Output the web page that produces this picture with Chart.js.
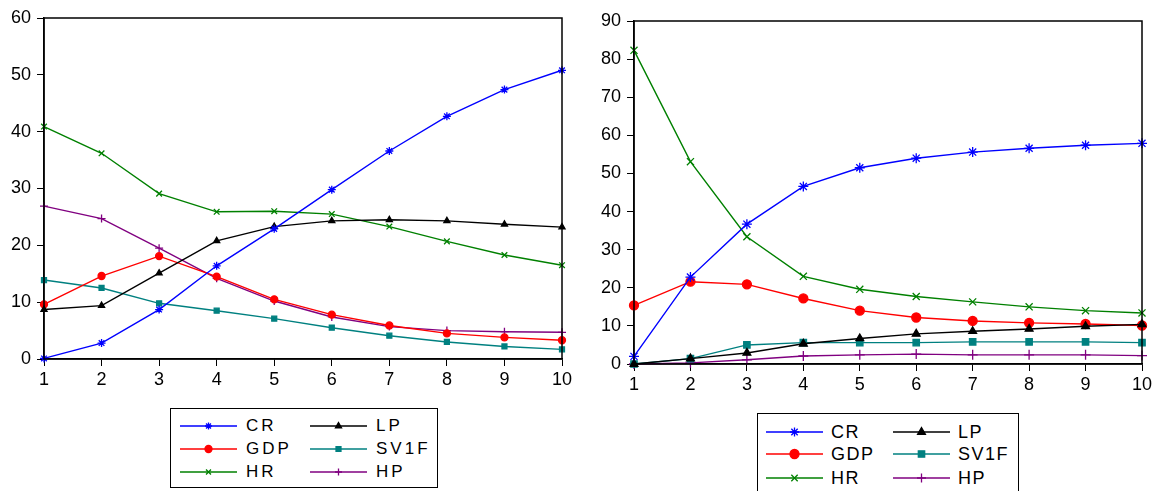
<!DOCTYPE html>
<html>
<head>
<meta charset="utf-8">
<script src="https://cdn.jsdelivr.net/npm/chart.js@4/dist/chart.umd.min.js"></script>
<style>
  html, body { margin: 0; padding: 0; background: #fff; }
  body { width: 1163px; height: 491px; position: relative; overflow: hidden; font-family: "Liberation Sans", Arial, sans-serif; }
  .wrap { position: absolute; }
  .legend { position: absolute; border: 1px solid #000; background: #fff; box-sizing: border-box; }
  .legend .item { position: absolute; height: 22px; }
  .legend canvas { position: absolute; left: 0; top: 0; }
  .legend span { position: absolute; top: 0; line-height: 22px; color: #000; white-space: nowrap; }
</style>
</head>
<body>
<div class="wrap" id="w1" style="left:0;top:0;width:576px;height:397px"><canvas id="c1"></canvas></div>
<div class="wrap" id="w2" style="left:590px;top:0;width:566px;height:402px"><canvas id="c2"></canvas></div>
<div class="legend" id="l1" style="left:170px;top:408px;width:268px;height:80px"></div>
<div class="legend" id="l2" style="left:757px;top:413px;width:262px;height:90px"></div>
<script>
// x categories
const periods = ['1', '2', '3', '4', '5', '6', '7', '8', '9', '10'];

// left panel
const crA   = [0.1, 2.8, 8.7, 16.4, 22.9, 29.8, 36.6, 42.7, 47.4, 50.8];
const lpA   = [8.7, 9.4, 15.1, 20.8, 23.3, 24.3, 24.5, 24.3, 23.7, 23.2];
const gdpA  = [9.6, 14.6, 18.1, 14.5, 10.5, 7.8, 5.9, 4.5, 3.8, 3.3];
const sv1fA = [13.9, 12.5, 9.8, 8.5, 7.1, 5.5, 4.1, 3.0, 2.2, 1.7];
const hrA   = [40.9, 36.2, 29.1, 25.9, 26.0, 25.5, 23.3, 20.7, 18.3, 16.5];
const hpA   = [26.9, 24.7, 19.5, 14.2, 10.2, 7.4, 5.7, 5.0, 4.8, 4.7];

// right panel
const crB   = [2.0, 22.8, 36.7, 46.6, 51.5, 54.0, 55.6, 56.6, 57.4, 57.9];
const lpB   = [0.0, 1.4, 2.9, 5.3, 6.7, 7.9, 8.6, 9.2, 9.9, 10.4];
const gdpB  = [15.4, 21.6, 20.9, 17.2, 14.0, 12.2, 11.3, 10.8, 10.5, 10.1];
const sv1fB = [0.0, 1.4, 5.0, 5.6, 5.6, 5.6, 5.8, 5.8, 5.8, 5.6];
const hrB   = [82.3, 53.1, 33.4, 23.0, 19.6, 17.7, 16.3, 15.0, 14.0, 13.4];
const hpB   = [0.0, 0.3, 1.1, 2.1, 2.4, 2.6, 2.4, 2.4, 2.4, 2.2];

const yTicksA = [0, 10, 20, 30, 40, 50, 60];
const yTicksB = [0, 10, 20, 30, 40, 50, 60, 70, 80, 90];

const seriesNames = ['CR', 'LP', 'GDP', 'SV1F', 'HR', 'HP'];
const seriesColors = ['#0000ff', '#000000', '#ff0000', '#008080', '#008000', '#800080'];
const seriesMarks = ['star', 'triangle', 'circle', 'rect', 'crossRot', 'cross'];

const FONT = '"Liberation Sans", Arial, sans-serif';

// full frame round the plot area
const boxPlugin = {
  id: 'box',
  afterDraw(chart) {
    const a = chart.chartArea, ctx = chart.ctx;
    ctx.save();
    ctx.strokeStyle = '#000';
    ctx.lineWidth = 1.5;
    ctx.strokeRect(a.left, a.top, a.right - a.left, a.bottom - a.top);
    ctx.restore();
  }
};

function makeChart(id, data, yTicks, topPad, markR) {
  const datasets = data.map((vals, i) => ({
    label: seriesNames[i],
    data: vals,
    borderColor: seriesColors[i],
    backgroundColor: seriesColors[i],
    pointBorderColor: seriesColors[i],
    pointBackgroundColor: seriesColors[i],
    pointStyle: seriesMarks[i],
    pointRadius: seriesMarks[i] === 'star' || seriesMarks[i].startsWith('cross') ? markR + 0.5 : markR,
    pointBorderWidth: 1.3,
    borderWidth: 1.4,
    tension: 0,
    clip: false,
    order: i
  }));
  return new Chart(document.getElementById(id), {
    type: 'line',
    data: { labels: periods, datasets },
    options: {
      responsive: true,
      maintainAspectRatio: false,
      animation: false,
      layout: { padding: { top: topPad, right: 14, left: 0, bottom: 0 } },
      plugins: { legend: { display: false }, tooltip: { enabled: false } },
      scales: {
        x: {
          offset: false,
          grid: { display: true, drawOnChartArea: false, drawTicks: true, tickLength: 7, color: '#000', lineWidth: 1 },
          border: { display: true, color: '#000', width: 1.5 },
          ticks: { color: '#000', font: { family: FONT, size: 18 }, padding: 3, maxRotation: 0, autoSkip: false },
          afterFit(s) { s.height = 38; }
        },
        y: {
          min: yTicks[0],
          max: yTicks[yTicks.length - 1],
          afterBuildTicks(s) { s.ticks = yTicks.map(v => ({ value: v })); },
          grid: { display: true, drawOnChartArea: false, drawTicks: true, tickLength: 7, color: '#000', lineWidth: 1 },
          border: { display: true, color: '#000', width: 1.5 },
          ticks: { color: '#000', font: { family: FONT, size: 18 }, padding: 6 },
          afterFit(s) { s.width = 44; }
        }
      }
    },
    plugins: [boxPlugin]
  });
}

makeChart('c1', [crA, lpA, gdpA, sv1fA, hrA, hpA], yTicksA, 18, 3.5);
makeChart('c2', [crB, lpB, gdpB, sv1fB, hrB, hpB], yTicksB, 21, 4.5);

// legends: two columns, three rows
function drawMark(ctx, style, r, x, y, color) {
  ctx.strokeStyle = color;
  ctx.fillStyle = color;
  ctx.lineWidth = 1.3;
  if (Chart.helpers && Chart.helpers.drawPoint) {
    Chart.helpers.drawPoint(ctx, { pointStyle: style, radius: r, rotation: 0, borderWidth: 1.3 }, x, y);
  }
}

function makeLegend(id, cfg) {
  const box = document.getElementById(id);
  seriesNames.forEach((name, i) => {
    const col = i % 2, row = Math.floor(i / 2);
    const item = document.createElement('div');
    item.className = 'item';
    item.style.left = cfg.colX[col] + 'px';
    item.style.top = cfg.rowY[row] + 'px';
    item.style.width = '130px';
    const cv = document.createElement('canvas');
    cv.width = cfg.lineW; cv.height = 22;
    const ctx = cv.getContext('2d');
    ctx.strokeStyle = seriesColors[i];
    ctx.lineWidth = 1.6;
    ctx.beginPath(); ctx.moveTo(0, 11); ctx.lineTo(cfg.lineW, 11); ctx.stroke();
    drawMark(ctx, seriesMarks[i], cfg.markR, cfg.lineW / 2, 11, seriesColors[i]);
    item.appendChild(cv);
    const sp = document.createElement('span');
    sp.textContent = name;
    sp.style.left = cfg.textX + 'px';
    sp.style.fontSize = cfg.fontSize + 'px';
    sp.style.letterSpacing = cfg.spacing + 'px';
    item.appendChild(sp);
    box.appendChild(item);
  });
}

makeLegend('l1', { colX: [9, 139], rowY: [6, 29, 52], lineW: 57, textX: 66, markR: 3.5, fontSize: 17, spacing: 3 });
makeLegend('l2', { colX: [8, 135], rowY: [7, 29, 53], lineW: 57, textX: 65, markR: 4.5, fontSize: 18, spacing: 1.5 });
</script>
</body>
</html>
